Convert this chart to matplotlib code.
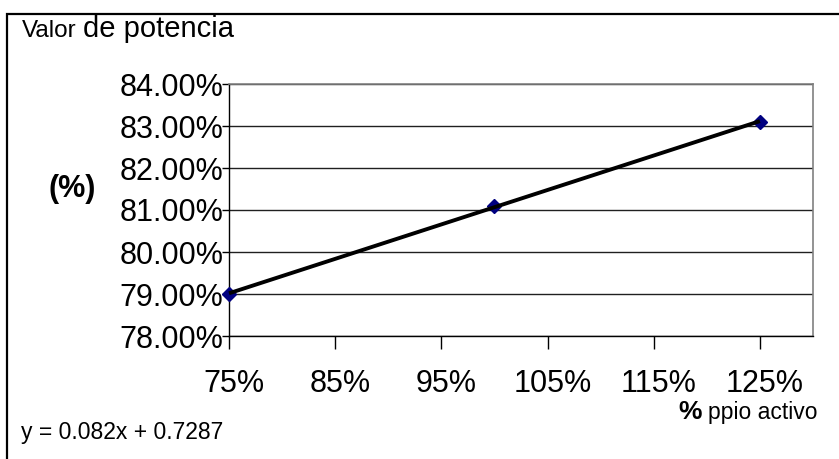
import numpy as np
import matplotlib
matplotlib.use("Agg")
import matplotlib.pyplot as plt
from matplotlib.patches import Rectangle
from matplotlib.transforms import ScaledTranslation

plt.rcParams["font.family"] = ["Liberation Sans", "DejaVu Sans"]

# active ingredient level vs. measured potency
ppio = [0.75, 1.00, 1.25]
potencia = [0.790, 0.811, 0.831]
xticks = [0.75, 0.85, 0.95, 1.05, 1.15, 1.25]
xtick_labels = ["75%", "85%", "95%", "105%", "115%", "125%"]
yticks = [0.78, 0.79, 0.80, 0.81, 0.82, 0.83, 0.84]
ytick_labels = ["78.00%", "79.00%", "80.00%", "81.00%", "82.00%", "83.00%", "84.00%"]

W, H = 839, 459
fig = plt.figure(figsize=(W / 100, H / 100), dpi=100)
ax = fig.add_axes([229 / W, 1 - 336 / H, (813 - 229) / W, (336 - 84) / H])

# linear trendline
m, b = np.polyfit(ppio, potencia, 1)
xs = np.array([ppio[0], ppio[-1]])

ax.plot(ppio, potencia, linestyle="none", marker="D", markersize=7.5,
        color="#000080", zorder=3, clip_on=False)
ax.plot(xs, m * xs + b, color="black", linewidth=2.8, zorder=4,
        solid_capstyle="butt", clip_on=False)

ax.set_xlim(0.75, 1.30)
ax.set_ylim(0.78, 0.84)
ax.set_xticks(xticks)
ax.set_xticklabels(xtick_labels, fontsize=22)
ax.set_yticks(yticks)
ax.set_yticklabels(ytick_labels, fontsize=22)
ax.tick_params(axis="x", direction="out", length=9, width=1, pad=15, color="black")
ax.tick_params(axis="y", direction="out", length=5, width=1, pad=-1, color="black")
shift = ScaledTranslation(5 / 100, 0, fig.dpi_scale_trans)
for lbl in ax.get_xticklabels():
    lbl.set_transform(lbl.get_transform() + shift)

ax.yaxis.grid(True, color="#202020", linewidth=1)
ax.set_axisbelow(True)
for side in ("left", "bottom"):
    ax.spines[side].set_color("black")
    ax.spines[side].set_linewidth(1)
for side in ("top", "right"):
    ax.spines[side].set_color("#808080")
    ax.spines[side].set_linewidth(1.2)

# outer chart frame
fig.patches.append(Rectangle((7 / W, -0.1), 1.2, 1.1 - 14 / H,
                             transform=fig.transFigure, fill=False,
                             edgecolor="black", linewidth=1.6))

# title in two sizes
renderer = fig.canvas.get_renderer()
t1 = fig.text(22 / W, 1 - 37 / H, "Valor", fontsize=17.5, va="baseline")
bb = t1.get_window_extent(renderer)
fig.text(bb.x1 / W + 6 / W, 1 - 37 / H, "de potencia", fontsize=21, va="baseline")

fig.text(72 / W, 1 - 189 / H, "(%)", fontsize=22, fontweight="bold",
         ha="center", va="center")

# x axis title, "%" in bold
t2 = fig.text(817 / W, 1 - 419 / H, "ppio activo", fontsize=16.5,
              ha="right", va="baseline")
bb2 = t2.get_window_extent(renderer)
fig.text(bb2.x0 / W - 6 / W, 1 - 419 / H, "%", fontsize=19, fontweight="bold",
         ha="right", va="baseline")

fig.text(21 / W, 1 - 439 / H, f"y = {m:.3f}x + {b:.4f}", fontsize=16.5,
         va="baseline")

fig.savefig("out.png", dpi=100)
